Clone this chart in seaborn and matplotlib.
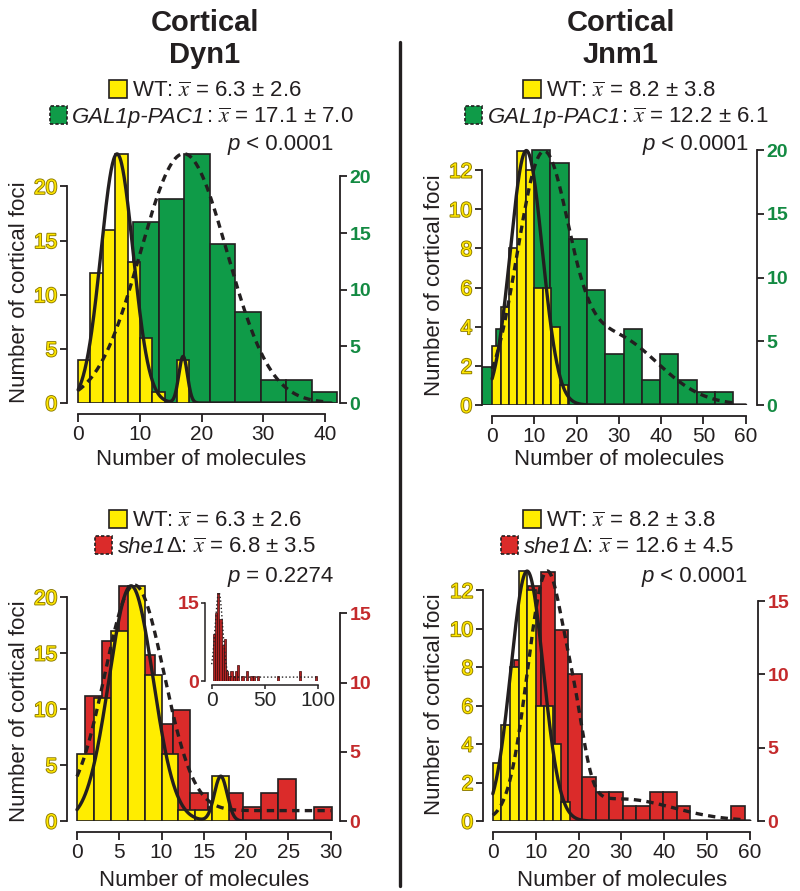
import numpy as np
import seaborn as sns
import matplotlib.pyplot as plt
import matplotlib.patheffects as pe
from matplotlib.lines import Line2D
from matplotlib.patches import Rectangle
from matplotlib.offsetbox import TextArea, DrawingArea, HPacker, AnnotationBbox

sns.set_style("ticks")
plt.rcParams['font.family'] = ['Liberation Sans', 'DejaVu Sans']
plt.rcParams['mathtext.fontset'] = 'stix'

# ---------------- data (counts) ----------------
wt_edges = [0, 2, 4, 6, 8, 10, 12, 14, 16, 18]

# Dyn1, top: WT vs GAL1p-PAC1
wt_dyn1_top = [4, 12, 16, 23, 13, 6, 1, 0, 4]
pac1_dyn1_edges = [0.7, 4.8, 8.9, 13.1, 17.2, 21.3, 25.4, 29.6, 33.7, 37.8, 41.9]
pac1_dyn1_counts = [1, 5, 16, 18, 22, 14, 8, 2, 2, 1]

# Jnm1, top: WT vs GAL1p-PAC1
wt_jnm1 = [3, 5, 8, 13, 12, 6, 6, 4, 1]
pac1_jnm1_edges = [-3.5, 0.8, 5.1, 9.5, 13.8, 18.1, 22.4, 26.8, 31.1, 35.4,
                   39.8, 44.1, 48.4, 52.8, 57.1]
pac1_jnm1_counts = [3, 6, 11, 20, 19, 13, 9, 4, 6, 2, 4, 2, 1, 1]

# Dyn1, bottom: WT vs she1
wt_dyn1_bot = [6, 11, 17, 21, 13, 6, 1, 1, 4]
she1_dyn1_edges = [0.9, 3.0, 5.0, 7.1, 9.2, 11.3, 13.4, 15.5, 17.6, 19.6,
                   21.7, 23.8, 25.9, 28.0, 30.1]
she1_dyn1_counts = [9, 13, 17, 12, 7, 8, 2, 1, 2, 1, 2, 3, 0, 1]
# extra she1 values beyond 30 (only in inset)
she1_tail_x = [33, 37, 40, 44, 62, 83, 98]
she1_tail_n = [2, 1, 1, 1, 1, 2, 1]

# Jnm1, bottom: WT vs she1
she1_jnm1_edges = [1.8, 5.0, 8.1, 11.3, 14.5, 17.6, 20.8, 24.0, 27.1, 30.3,
                   33.5, 36.6, 39.8, 43.0, 46.1, 49.3, 52.5, 55.6, 58.8]
she1_jnm1_counts = [3, 11, 16, 17, 13, 10, 3, 2, 2, 1, 1, 2, 2, 1, 0, 0, 0, 1]

# fitted curves: (amplitude, mean, sd) components
fit_wt_dyn1_top = [(23, 6.3, 2.6), (4.3, 17.0, 0.7)]
fit_pac1_dyn1 = [(22, 17.1, 7.0)]
fit_wt_jnm1_top = [(13, 8.1, 3.8)]
fit_pac1_jnm1 = [(18, 11.8, 6.0), (5.5, 28, 11)]
fit_wt_dyn1_bot = [(21, 6.4, 2.6), (4.0, 17.0, 0.75)]
fit_she1_dyn1 = [(16.3, 6.8, 3.5)]
fit_she1_dyn1_floor = 0.75
fit_wt_jnm1_bot = [(13, 8.0, 3.8)]
fit_she1_jnm1 = [(16.5, 12.6, 4.5), (2.5, 19.5, 2.2), (1.5, 30, 12)]

# ---------------- style ----------------
W, H = 800, 891
YELLOW = '#FFED00'
GREEN = '#0F9B48'
RED = '#DB2B2A'
DARK = '#231F20'
YEL_TXT = '#FFE600'
YEL_EDGE = '#8C7A00'
GRN_TXT = '#138A42'
RED_TXT = '#C42A2C'
DASH = (0, (2.2, 1.6))

fig = plt.figure(figsize=(W / 100, H / 100), dpi=100)


def px_rect(l, t, r, b):
    return [l / W, 1 - b / H, (r - l) / W, (b - t) / H]


def gauss_sum(xs, comps, floor=0.0):
    ys = np.full(len(xs), floor, dtype=float)
    for a, m, s in comps:
        ys += a * np.exp(-(xs - m) ** 2 / (2 * s ** 2))
    return ys


def draw_panel(rect, xlim, xticks, wt_counts, mut_edges, mut_counts, mut_color,
               mut_txt, ylim_l, yticks_l, ylim_r, yticks_r, wt_fit, mut_fit,
               wt_end, mut_end, floor=0.0):
    ax = fig.add_axes(rect)
    ax_mut = ax.twinx()
    ax_fit = ax.twinx()
    ax_mut.set_zorder(1)
    ax.set_zorder(2)
    ax_fit.set_zorder(3)
    ax.patch.set_visible(False)
    ax_mut.patch.set_visible(False)

    sns.histplot(x=mut_edges[:-1], weights=mut_counts, bins=mut_edges, ax=ax_mut,
                 color=mut_color, edgecolor=DARK, linewidth=1.2, alpha=1)
    sns.histplot(x=wt_edges[:-1], weights=wt_counts, bins=wt_edges, ax=ax,
                 color=YELLOW, edgecolor=DARK, linewidth=1.2, alpha=1)

    xs = np.linspace(0, wt_end, 600)
    sns.lineplot(x=xs, y=gauss_sum(xs, wt_fit), ax=ax, color=DARK, lw=2.4)
    xs2 = np.linspace(0, mut_end, 600)
    sns.lineplot(x=xs2, y=gauss_sum(xs2, mut_fit, floor), ax=ax_fit, color=DARK,
                 lw=2.4, linestyle=DASH)

    ax.set_xlim(xlim)
    ax.set_ylim(ylim_l)
    ax_mut.set_ylim(ylim_r)
    ax_fit.set_ylim(ylim_r)
    ax_fit.set_axis_off()

    for a in (ax, ax_mut):
        a.set_ylabel('')
        a.set_xlabel('')
        for s in a.spines.values():
            s.set_linewidth(1.3)
            s.set_color(DARK)
    ax.spines['top'].set_visible(False)
    ax.spines['right'].set_visible(False)
    ax.spines['left'].set_bounds(yticks_l[0], yticks_l[-1])
    ax.spines['bottom'].set_position(('outward', 8))
    ax.spines['bottom'].set_bounds(xticks[0], xticks[-1])
    for k in ('top', 'left', 'bottom'):
        ax_mut.spines[k].set_visible(False)
    ax_mut.spines['right'].set_bounds(yticks_r[0], yticks_r[-1])

    ax.set_xticks(xticks)
    ax.set_yticks(yticks_l)
    ax_mut.set_yticks(yticks_r)
    ax.tick_params(axis='x', direction='out', length=6, width=1.3, color=DARK,
                   labelsize=15, labelcolor=DARK, pad=2)
    ax.tick_params(axis='y', direction='out', length=5, width=1.3, color=DARK,
                   labelsize=15, labelcolor=YEL_TXT, pad=2)
    ax_mut.tick_params(axis='y', direction='out', length=5, width=1.3, color=DARK,
                       labelsize=14, labelcolor=mut_txt, pad=2)
    for lbl in ax.get_yticklabels():
        lbl.set_path_effects([pe.withStroke(linewidth=1.3, foreground=YEL_EDGE)])
    for lbl in ax_mut.get_yticklabels():
        lbl.set_fontweight('bold')
    return ax


# ---------------- panels ----------------
draw_panel(px_rect(67, 150, 340, 403), (-1.8, 42.4), [0, 10, 20, 30, 40],
           wt_dyn1_top, pac1_dyn1_edges, pac1_dyn1_counts, GREEN, GRN_TXT,
           (0, 23.36), [0, 5, 10, 15, 20], (0, 22.33), [0, 5, 10, 15, 20],
           fit_wt_dyn1_top, fit_pac1_dyn1, 41, 40.5)

draw_panel(px_rect(482, 148, 757, 405), (-2.4, 62.7), [0, 10, 20, 30, 40, 50, 60],
           wt_jnm1, pac1_jnm1_edges, pac1_jnm1_counts, GREEN, GRN_TXT,
           (0, 13.13), [0, 2, 4, 6, 8, 10, 12], (0, 20.16), [0, 5, 10, 15, 20],
           fit_wt_jnm1_top, fit_pac1_jnm1, 60, 58)

ax3 = draw_panel(px_rect(67, 583, 340, 821), (-1.18, 31.1), [0, 5, 10, 15, 20, 25, 30],
                 wt_dyn1_bot, she1_dyn1_edges, she1_dyn1_counts, RED, RED_TXT,
                 (0, 21.25), [0, 5, 10, 15, 20], (0, 17.2), [0, 5, 10, 15],
                 fit_wt_dyn1_bot, fit_she1_dyn1, 30, 30, fit_she1_dyn1_floor)

draw_panel(px_rect(483, 568, 758, 821), (-2.3, 61.9), [0, 10, 20, 30, 40, 50, 60],
           wt_jnm1, she1_jnm1_edges, she1_jnm1_counts, RED, RED_TXT,
           (0, 13.16), [0, 2, 4, 6, 8, 10, 12], (0, 17.25), [0, 5, 10, 15],
           fit_wt_jnm1_bot, fit_she1_jnm1, 60, 59)

# inset: she1 Dyn1 full range
axi = fig.add_axes(px_rect(205, 593, 322, 681))
axi.set_zorder(6)
axi.patch.set_visible(False)
bin_w = she1_dyn1_edges[1] - she1_dyn1_edges[0]
centers = [e + bin_w / 2 for e in she1_dyn1_edges[:-1]]
sns.histplot(x=centers + she1_tail_x, weights=she1_dyn1_counts + she1_tail_n,
             binwidth=2.09, binrange=(she1_dyn1_edges[0], 101.2), ax=axi,
             color='#B22222', edgecolor='#3a0a0a', linewidth=0.5, alpha=1)
xs_in = np.linspace(0, 100, 400)
sns.lineplot(x=xs_in, y=gauss_sum(xs_in, fit_she1_dyn1, fit_she1_dyn1_floor),
             ax=axi, color=DARK, lw=1.0, linestyle=':')
axi.set_xlim(-6.3, 104)
axi.set_ylim(0, 16.9)
axi.set_xlabel('')
axi.set_ylabel('')
for k in ('top', 'right'):
    axi.spines[k].set_visible(False)
axi.spines['left'].set_bounds(0, 15)
axi.spines['bottom'].set_bounds(0, 100)
axi.spines['bottom'].set_position(('outward', 3))
for s in axi.spines.values():
    s.set_color(DARK)
    s.set_linewidth(1.1)
axi.set_xticks([0, 50, 100])
axi.set_yticks([0, 15])
axi.tick_params(axis='x', length=3, width=1.1, labelsize=15, pad=1, color=DARK)
axi.tick_params(axis='y', length=3, width=1.1, labelsize=14, labelcolor=RED_TXT,
                pad=1, color=DARK)
for lbl in axi.get_yticklabels():
    lbl.set_fontweight('bold')

# ---------------- texts ----------------
TXT = dict(size=16, color=DARK)


def square(color, dashed):
    da = DrawingArea(14, 13, 0, 1)
    da.add_artist(Rectangle((0.6, -0.6), 12.6, 12.6, facecolor=color, edgecolor=DARK,
                            lw=1.2, linestyle=(0, (2, 1.2)) if dashed else '-'))
    return da


def row(cx, base, color, dashed, pieces):
    texts = [TextArea(s, textprops=dict(TXT, **kw)) for s, kw in pieces]
    box = HPacker(children=[square(color, dashed),
                            HPacker(children=texts, sep=0, pad=0, align='baseline')],
                  sep=3, pad=0, align='baseline')
    fig.add_artist(AnnotationBbox(box, (cx / W, 1 - (base + 5) / H),
                                  xycoords='figure fraction', box_alignment=(0.5, 0),
                                  frameon=False, pad=0))


def pline(rx, base, rest):
    texts = [TextArea('p', textprops=dict(TXT, style='italic')),
             TextArea(rest, textprops=TXT)]
    box = HPacker(children=texts, sep=0, pad=0, align='baseline')
    fig.add_artist(AnnotationBbox(box, (rx / W, 1 - (base + 5) / H),
                                  xycoords='figure fraction', box_alignment=(1, 0),
                                  frameon=False, pad=0))


XBAR = r'$\overline{x}$'
IT = dict(style='italic')

for cx, name in ((205, 'Dyn1'), (621, 'Jnm1')):
    fig.text(cx / W, 1 - 31 / H, 'Cortical', ha='center', va='baseline', size=21,
             weight='bold', color=DARK)
    fig.text(cx / W, 1 - 63 / H, name, ha='center', va='baseline', size=21,
             weight='bold', color=DARK)

row(205, 97, YELLOW, False, [('WT: ' + XBAR + ' = 6.3 ± 2.6', {})])
row(201, 123, GREEN, True, [('GAL1p-PAC1', IT), (': ' + XBAR + ' = 17.1 ± 7.0', {})])
pline(333, 150, ' < 0.0001')

row(619, 97, YELLOW, False, [('WT: ' + XBAR + ' = 8.2 ± 3.8', {})])
row(616, 123, GREEN, True, [('GAL1p-PAC1', IT), (': ' + XBAR + ' = 12.2 ± 6.1', {})])
pline(748, 150, ' < 0.0001')

row(205, 527, YELLOW, False, [('WT: ' + XBAR + ' = 6.3 ± 2.6', {})])
row(205, 553, RED, True, [('she1', IT), ('Δ: ' + XBAR + ' = 6.8 ± 3.5', {})])
pline(333, 582, ' = 0.2274')

row(619, 527, YELLOW, False, [('WT: ' + XBAR + ' = 8.2 ± 3.8', {})])
row(617, 553, RED, True, [('she1', IT), ('Δ: ' + XBAR + ' = 12.6 ± 4.5', {})])
pline(747, 582, ' < 0.0001')

# axis labels
for x, y in ((19.5, 292), (435, 285), (19.5, 711), (435, 704)):
    fig.text(x / W, 1 - y / H, 'Number of cortical foci', rotation=90, ha='center',
             va='center', size=16, color=DARK)
for x, y in ((201.5, 465), (618.6, 465), (203.7, 886), (621.7, 886)):
    fig.text(x / W, 1 - y / H, 'Number of molecules', ha='center', va='baseline',
             size=16, color=DARK)

# divider
fig.add_artist(Line2D([400 / W, 400 / W], [1 - 42 / H, 1 - 886 / H], color=DARK,
                      lw=2.4, transform=fig.transFigure))

fig.savefig('out.png', dpi=100)
